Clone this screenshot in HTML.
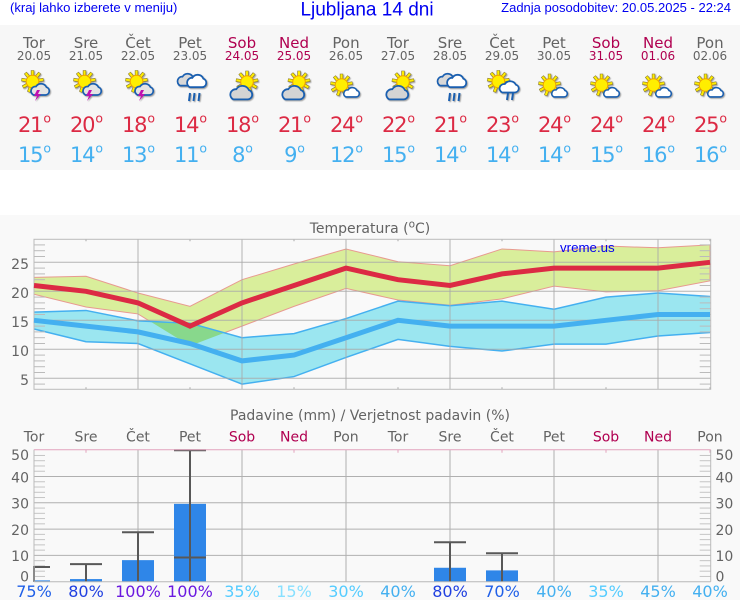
<!DOCTYPE html>
<html lang="sl">
<head>
<meta charset="utf-8">
<title>Ljubljana 14 dni</title>
<style>
html,body{margin:0;padding:0;background:#fff;width:740px;height:600px;overflow:hidden}
svg{display:block}
text{font-family:"DejaVu Sans",sans-serif}
.ls{font-family:"Liberation Sans",sans-serif;fill:#0000f0}
.wx{filter:drop-shadow(1px 1.5px .6px rgba(0,0,0,.35))}
</style>
</head>
<body>
<svg id="chart" width="740" height="600" viewBox="0 0 740 600" xmlns="http://www.w3.org/2000/svg">
<defs>
  <path id="cloud-shape" d="M4 12H16A4 4 0 0 0 17 4.2A6 6 0 0 0 6.5 3.5A4.5 4.5 0 0 0 4 12Z"/>
  <g id="ray"><line x1="0" y1="-6" x2="0" y2="-11.3" stroke="#8a7a30" stroke-width="3.4"/><line x1="0" y1="-6" x2="0" y2="-10.8" stroke="#ffee00" stroke-width="2.1"/></g>
  <g id="sun">
    <use href="#ray"/><use href="#ray" transform="rotate(40)"/><use href="#ray" transform="rotate(80)"/><use href="#ray" transform="rotate(120)"/><use href="#ray" transform="rotate(160)"/><use href="#ray" transform="rotate(200)"/><use href="#ray" transform="rotate(240)"/><use href="#ray" transform="rotate(280)"/><use href="#ray" transform="rotate(320)"/>
    <circle r="6.3" fill="#ffee00" stroke="#f0a000" stroke-width="1"/>
  </g>
  <g id="icon-storm">
    <use href="#sun" transform="translate(-1.5,-6.5)"/>
    <use href="#cloud-shape" transform="translate(-4.5,-5)" fill="#e4e4e4" stroke="#1a5fb0" stroke-width="1.7"/>
    <path d="M3 2L0 8H3L1 13L7 6H4L6 2Z" fill="#c010b0"/>
  </g>
  <g id="icon-rain">
    <use href="#cloud-shape" transform="translate(-14,-15) scale(1,1.05)" fill="#d8d8d8" stroke="#1a5fb0" stroke-width="1.7"/>
    <use href="#cloud-shape" transform="translate(-4.5,-14) scale(1.05,1.1)" fill="#fff" stroke="#1a5fb0" stroke-width="1.7"/>
    <path d="M0 5L-1 13M4.5 5L3.5 13M9.5 5L8.5 13" fill="none" stroke="#1a5fb0" stroke-width="2"/>
  </g>
  <g id="icon-pcloud">
    <use href="#sun" transform="translate(5,-6)"/>
    <use href="#cloud-shape" transform="translate(-13.5,-3) scale(1.2,1.2)" fill="#d4d4d4" stroke="#1a5fb0" stroke-width="1.5"/>
  </g>
  <g id="icon-sun">
    <use href="#sun" transform="translate(-4.5,-3)"/>
    <use href="#cloud-shape" transform="translate(-3.5,-1) scale(.85,.83)" fill="#fff" stroke="#1a5fb0" stroke-width="1.9"/>
  </g>
  <g id="icon-sunrain">
    <use href="#sun" transform="translate(-3.7,-6.5)"/>
    <use href="#cloud-shape" transform="translate(-4,-7.5) scale(1.05,1)" fill="#fff" stroke="#1a5fb0" stroke-width="1.7"/>
    <path d="M6 5L5 12M11 5L10 12" fill="none" stroke="#1a5fb0" stroke-width="2"/>
  </g>
  <clipPath id="precip-clip"><rect x="33" y="449" width="678" height="133"/></clipPath>
  <clipPath id="red-band-clip"><polygon id="red-band-clip-shape" points="0,0"/></clipPath>
</defs>

<rect x="0" y="0" width="740" height="600" fill="#fff"/>
<rect x="0" y="25" width="740" height="145" fill="#f7f7f7"/>
<rect x="0" y="215" width="740" height="385" fill="#f9f9f9"/>

<text class="ls" x="10" y="12" font-size="13.1">(kraj lahko izberete v meniju)</text>
<text class="ls" x="367" y="15.5" font-size="19" text-anchor="middle">Ljubljana 14 dni</text>
<text class="ls" x="731" y="12" font-size="13" text-anchor="end">Zadnja posodobitev: 20.05.2025 - 22:24</text>

<g id="forecast"></g>

<g id="temp-chart">
  <text x="370" y="233" font-size="14" fill="#636363" text-anchor="middle">Temperatura (<tspan font-size="10.5" dy="-5.5">o</tspan><tspan dy="5.5">C)</tspan></text>
</g>

<g id="precip-chart">
  <text x="370" y="420" font-size="14" fill="#636363" text-anchor="middle">Padavine (mm) / Verjetnost padavin (%)</text>
</g>
</svg>

<script>
var dayNames = ['Tor','Sre','Čet','Pet','Sob','Ned','Pon','Tor','Sre','Čet','Pet','Sob','Ned','Pon'];
var dates = ['20.05','21.05','22.05','23.05','24.05','25.05','26.05','27.05','28.05','29.05','30.05','31.05','01.06','02.06'];
var icons = ['storm','storm','storm','rain','pcloud','pcloud','sun','pcloud','rain','sunrain','sun','sun','sun','sun'];
var weekend = [4,5,11,12];
var maxTemp = [21,20,18,14,18,21,24,22,21,23,24,24,24,25];
var minTemp = [15,14,13,11,8,9,12,15,14,14,14,15,16,16];
var maxUpper = [22.4,22.6,19.7,17.4,22.0,24.7,27.3,25.1,24.4,27.3,26.8,27.8,27.5,28.0];
var maxLower = [19.5,17.3,16.1,10.6,14.0,17.4,20.5,18.5,17.6,18.7,20.9,19.9,20.1,21.8];
var minUpper = [16.4,16.7,14.9,14.5,12.0,12.7,15.3,18.3,17.5,18.3,16.9,19.0,19.7,19.1];
var minLower = [13.5,11.3,11.0,7.5,4.0,5.3,8.6,11.7,10.5,9.7,10.9,10.9,12.3,12.9];
var tempTicks = [25,20,15,10,5];
var precipTicks = [50,40,30,20,10,0];
var precipValues = [0.5,1,8.2,29.6,0,0,0,0,5.3,4.3,0,0,0,0];
var precipErrLow = [0,0,0,9.2,0,0,0,0,0,0,0,0,0,0];
var precipErrHigh = [5.6,6.7,18.8,50,0,0,0,0,15,10.8,0,0,0,0];
var probability = [75,80,100,100,35,15,30,40,80,70,40,35,45,40];

var NS = 'http://www.w3.org/2000/svg';
var GRAY = '#636363', WEEKEND = '#b00050', HOT = '#dc2a44', COLD = '#44b0f0';

function xDay(i){ return 34 + 52 * i; }
function yTemp(v){ return 262.3 + (25 - v) * 5.8; }
function yPrecip(v){ return 581.7 - v * 2.63; }

function mk(parent, tag, attrs, name){
  var el = document.createElementNS(NS, tag);
  for (var k in attrs) el.setAttribute(k, attrs[k]);
  
  
  parent.appendChild(el);
  return el;
}
function label(parent, str, x, y, size, fill, anchor, name){
  var t = mk(parent, 'text', {x:x, y:y, 'font-size':size, fill:fill, 'text-anchor':anchor || 'middle'}, name);
  t.textContent = str;
  return t;
}
function isWeekend(i){ return weekend.indexOf(i) >= 0; }
function probColor(p){
  if (p >= 100) return '#6a18e0';
  if (p >= 80) return '#2040e0';
  if (p >= 70) return '#2060e8';
  if (p >= 40) return '#44b0f0';
  if (p >= 30) return '#55ccff';
  return '#88e0ff';
}
function pts(upper, lower, yFn){
  var a = [];
  upper.forEach(function(v,i){ a.push(xDay(i) + ',' + yFn(v)); });
  for (var i = lower.length - 1; i >= 0; i--) a.push(xDay(i) + ',' + yFn(lower[i]));
  return a.join(' ');
}
function linePts(vals, yFn){
  return vals.map(function(v,i){ return xDay(i) + ',' + yFn(v); }).join(' ');
}

/* daily forecast */
var fc = document.getElementById('forecast');
dayNames.forEach(function(d,i){
  var g = mk(fc, 'g', {}, 'forecast-day-' + dates[i]);
  var c = isWeekend(i) ? WEEKEND : GRAY;
  label(g, d, xDay(i), 48, 15, c, 'middle', 'forecast-day-name');
  label(g, dates[i], xDay(i), 60, 12, c, 'middle', 'forecast-date');
  var u = mk(g, 'use', {href:'#icon-' + icons[i], transform:'translate(' + xDay(i) + ',88)', 'class':'wx'}, 'weather-icon-' + icons[i]);
  var hi = label(g, String(maxTemp[i]), xDay(i) + 0.5, 132, 21, HOT, 'middle', 'max-temperature');
  hi.innerHTML = '<tspan letter-spacing="-1.2">' + maxTemp[i] + '</tspan><tspan font-size="12.5" dy="-9.5" dx="1">o</tspan>';
  var lo = label(g, String(minTemp[i]), xDay(i) + 0.5, 162, 21, COLD, 'middle', 'min-temperature');
  lo.innerHTML = '<tspan letter-spacing="-1.2">' + minTemp[i] + '</tspan><tspan font-size="12.5" dy="-9.5" dx="1">o</tspan>';
});

/* temperature chart */
var tc = document.getElementById('temp-chart');
var TL = 34, TR = 710.7, TT = 239.3, TB = 389.3;
document.getElementById('red-band-clip-shape').setAttribute('points', pts(maxUpper, maxLower, yTemp));
mk(tc, 'polygon', {points:pts(maxUpper, maxLower, yTemp), fill:'#d9ee9b', stroke:'#e89a90', 'stroke-width':1}, 'max-temperature-range');
mk(tc, 'polygon', {points:pts(minUpper, minLower, yTemp), fill:'#9be6f0', stroke:'none'}, 'min-temperature-range');
mk(tc, 'polygon', {points:pts(minUpper, minLower, yTemp), fill:'#88d88c', 'clip-path':'url(#red-band-clip)'}, 'temperature-range-overlap');
mk(tc, 'polyline', {points:linePts(minUpper, yTemp), fill:'none', stroke:COLD, 'stroke-width':1.5}, 'min-upper-line');
mk(tc, 'polyline', {points:linePts(minLower, yTemp), fill:'none', stroke:COLD, 'stroke-width':1.5}, 'min-lower-line');

for (var v = 4; v <= 28; v++){
  if (v % 5 === 0) continue;
  mk(tc, 'line', {x1:TL, x2:TL + 11, y1:yTemp(v), y2:yTemp(v), stroke:'#bbb'}, 'temperature-minor-tick-left');
  mk(tc, 'line', {x1:TR - 11, x2:TR, y1:yTemp(v), y2:yTemp(v), stroke:'#bbb'}, 'temperature-minor-tick-right');
}
tempTicks.forEach(function(t){
  mk(tc, 'line', {x1:TL, x2:TR, y1:yTemp(t), y2:yTemp(t), stroke:'#a8a8a8', 'stroke-opacity':.85}, 'temperature-gridline');
  label(tc, String(t), 29, yTemp(t) + 6.5, 14, GRAY, 'end', 'temperature-tick-label');
});
dayNames.forEach(function(d,i){
  if (i % 2 === 0 && i > 0 && i < 13) {
    mk(tc, 'line', {x1:xDay(i), x2:xDay(i), y1:TT, y2:TB, stroke:'#a8a8a8', 'stroke-opacity':.85}, 'temperature-day-gridline');
  } else {
    mk(tc, 'line', {x1:xDay(i), x2:xDay(i), y1:TT, y2:TT + 2, stroke:'#a8a8a8'}, 'temperature-top-tick');
    mk(tc, 'line', {x1:xDay(i), x2:xDay(i), y1:TB - 2, y2:TB, stroke:'#a8a8a8'}, 'temperature-bottom-tick');
  }
});
mk(tc, 'rect', {x:TL, y:TT, width:TR - TL, height:TB - TT, fill:'none', stroke:'#bbb'}, 'temperature-plot-frame');
mk(tc, 'polyline', {points:linePts(minTemp, yTemp), fill:'none', stroke:COLD, 'stroke-width':5}, 'min-temperature-line');
mk(tc, 'polyline', {points:linePts(maxTemp, yTemp), fill:'none', stroke:HOT, 'stroke-width':5}, 'max-temperature-line');
var w = mk(tc, 'text', {x:560, y:252, 'font-size':13.3, 'class':'ls'}, 'vreme-us-watermark');
w.textContent = 'vreme.us';

/* precipitation chart */
var pc = document.getElementById('precip-chart');
var PL = 34, PR = 710.7, PT = 449.7, PB = 581.7;
dayNames.forEach(function(d,i){
  label(pc, d, xDay(i), 441.5, 14, isWeekend(i) ? WEEKEND : GRAY, 'middle', 'precipitation-day-label');
  var p = label(pc, probability[i] + '%', xDay(i), 597, 16, probColor(probability[i]), 'middle', 'precipitation-probability');
  if (i % 2 === 0 && i > 0 && i < 13) {
    mk(pc, 'line', {x1:xDay(i), x2:xDay(i), y1:PT, y2:PB, stroke:'#b0b0b0'}, 'precipitation-day-gridline');
  } else {
    mk(pc, 'line', {x1:xDay(i), x2:xDay(i), y1:PT, y2:PT + 3, stroke:'#e3a3bd'}, 'precipitation-top-tick');
  }
});
for (var m = 2; m < 50; m += 2){
  if (m % 10 === 0) continue;
  mk(pc, 'line', {x1:PL, x2:PL + 11, y1:yPrecip(m), y2:yPrecip(m), stroke:'#c4c4c4'}, 'precipitation-minor-tick-left');
  mk(pc, 'line', {x1:PR - 11, x2:PR, y1:yPrecip(m), y2:yPrecip(m), stroke:'#c4c4c4'}, 'precipitation-minor-tick-right');
}
precipTicks.forEach(function(t){
  var y = yPrecip(t);
  if (t > 0 && t < 50) {
    mk(pc, 'line', {x1:PL, x2:PR, y1:y, y2:y, stroke:'#b0b0b0'}, 'precipitation-gridline');
  }
  var ly = Math.min(Math.max(y + 5.8, PT + 10.3), PB);
  label(pc, String(t), 29, ly, 14, GRAY, 'end', 'precipitation-tick-label-left');
  label(pc, String(t), 715.5, ly, 14, GRAY, 'start', 'precipitation-tick-label-right');
});
var marks = mk(pc, 'g', {'clip-path':'url(#precip-clip)'}, 'precipitation-marks');
precipValues.forEach(function(v,i){
  if (v > 0) {
    mk(marks, 'rect', {x:xDay(i) - 16, y:yPrecip(v), width:32, height:PB - yPrecip(v), fill:'#2f86e8'}, 'precipitation-bar');
  }
});
precipErrHigh.forEach(function(h,i){
  if (h <= 0) return;
  var x = xDay(i);
  mk(marks, 'line', {x1:x, x2:x, y1:yPrecip(h), y2:yPrecip(0), stroke:'#585858', 'stroke-width':2}, 'precipitation-error-stem');
  mk(marks, 'line', {x1:x - 16, x2:x + 16, y1:yPrecip(h), y2:yPrecip(h), stroke:'#585858', 'stroke-width':2}, 'precipitation-error-cap-high');
  if (precipErrLow[i] > 0) {
    mk(marks, 'line', {x1:x - 16, x2:x + 16, y1:yPrecip(precipErrLow[i]), y2:yPrecip(precipErrLow[i]), stroke:'#585858', 'stroke-width':2}, 'precipitation-error-cap-low');
  }
});
mk(pc, 'line', {x1:PL, x2:PR, y1:PB, y2:PB, stroke:'#b8b8b8'}, 'precipitation-x-axis');
mk(pc, 'line', {x1:PL, x2:PL, y1:PT, y2:PB, stroke:'#bbb'}, 'precipitation-left-axis');
mk(pc, 'line', {x1:PR, x2:PR, y1:PT, y2:PB, stroke:'#bbb'}, 'precipitation-right-axis');
mk(pc, 'line', {x1:PL, x2:PR, y1:PT, y2:PT, stroke:'#e3a3bd'}, 'precipitation-top-border');
</script>
</body>
</html>
